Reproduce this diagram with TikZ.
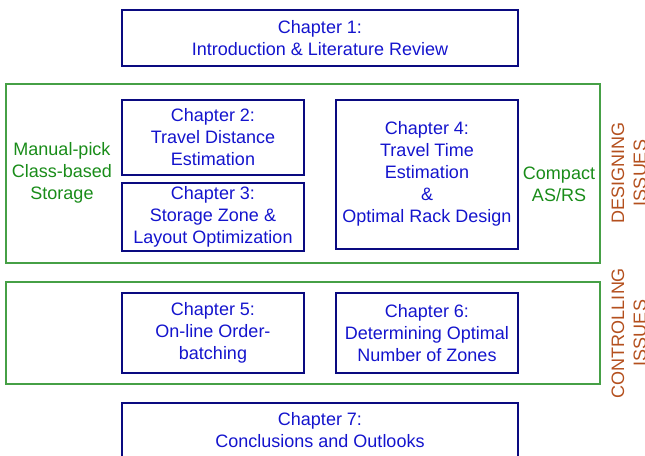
\documentclass[tikz,border=0pt]{standalone}
\usepackage{fontspec}
\setmainfont{Liberation Sans}
\definecolor{navy}{RGB}{10,10,128}
\definecolor{chblue}{RGB}{20,20,205}
\definecolor{grpgreen}{RGB}{70,160,70}
\definecolor{lblgreen}{RGB}{25,140,25}
\definecolor{issuebrown}{RGB}{180,80,30}
\tikzset{
  chap/.style={draw=navy, line width=2pt, text=chblue, align=center,
    font=\fontsize{18}{22}\selectfont, inner sep=0pt},
  grp/.style={draw=grpgreen, line width=1.4pt, inner sep=0pt},
  grplabel/.style={text=lblgreen, align=center, font=\fontsize{18}{22}\selectfont},
  issue/.style={text=issuebrown, align=center, rotate=90,
    font=\fontsize{18}{22}\selectfont},
}
\begin{document}
\begin{tikzpicture}[x=1pt,y=-1pt]
  \useasboundingbox (0,0) rectangle (645,455);
  \clip (0,0) rectangle (645,455);
  % group frames
  \node[grp, minimum width=594pt, minimum height=179pt] (design) at (303,173.5) {};
  \node[grp, minimum width=594pt, minimum height=102pt] (control) at (303,333) {};
  % chapters
  \node[chap, minimum width=396pt, minimum height=56pt] (c1) at (320,38)
    {Chapter 1:\\Introduction \& Literature Review};
  \node[chap, minimum width=182pt, minimum height=75pt] (c2) at (213,137.5)
    {Chapter 2:\\Travel Distance\\Estimation};
  \node[chap, minimum width=182pt, minimum height=68pt] (c3) at (213,217)
    {Chapter 3:\\Storage Zone \&\\Layout Optimization};
  \node[chap, minimum width=182pt, minimum height=149pt] (c4) at (427,174)
    {Chapter 4:\\Travel Time\\Estimation\\\&\\Optimal Rack Design};
  \node[chap, minimum width=182pt, minimum height=80pt] (c5) at (213,333)
    {Chapter 5:\\On-line Order-\\batching};
  \node[chap, minimum width=182pt, minimum height=80pt] (c6) at (427,333)
    {Chapter 6:\\Determining Optimal\\Number of Zones};
  \node[chap, minimum width=396pt, minimum height=54pt] (c7) at (320,430)
    {Chapter 7:\\Conclusions and Outlooks};
  % side labels
  \node[grplabel] (manual) at (62,173) {Manual-pick\\Class-based\\Storage};
  \node[grplabel] (compact) at (559,184.5) {Compact\\AS/RS};
  \node[issue] (designing) at (629,173) {DESIGNING\\ISSUES};
  \node[issue] (controlling) at (629,333) {CONTROLLING\\ISSUES};
\end{tikzpicture}
\end{document}
